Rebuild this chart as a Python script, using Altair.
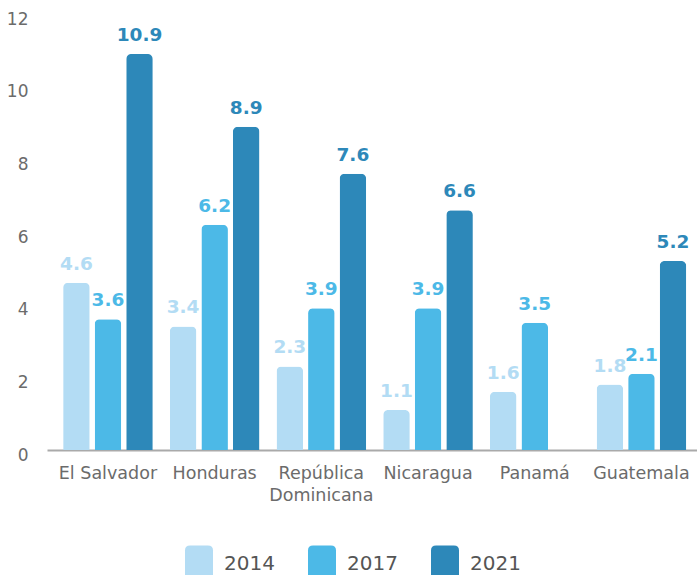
import altair as alt
import pandas as pd

# Data
countries = ["El Salvador", "Honduras", "República Dominicana", "Nicaragua", "Panamá", "Guatemala"]
years = ["2014", "2017", "2021"]
values_2014 = [4.6, 3.4, 2.3, 1.1, 1.6, 1.8]
values_2017 = [3.6, 6.2, 3.9, 3.9, 3.5, 2.1]
values_2021 = [10.9, 8.9, 7.6, 6.6, None, 5.2]
palette = ["#b3dcf4", "#4cb9e7", "#2d88b9"]
y_ticks = [0, 2, 4, 6, 8, 10, 12]

rows = []
for year, series in zip(years, [values_2014, values_2017, values_2021]):
    for country, value in zip(countries, series):
        if value is not None:
            rows.append({"pais": country, "anio": year, "valor": value})
df = pd.DataFrame(rows)

FONT = "DejaVu Sans"
TEXT_GRAY = "#6b6b6b"

# rounded legend swatch (top corners rounded)
swatch = "M-1,1.36 L-1,-1.0 Q-1,-1.36 -0.64,-1.36 L0.64,-1.36 Q1,-1.36 1,-1.0 L1,1.36 Z"

x_enc = alt.X(
    "pais:N",
    sort=countries,
    scale=alt.Scale(paddingInner=0.16, paddingOuter=0.126, align=0.6),
    axis=alt.Axis(
        title=None,
        labelAngle=0,
        ticks=False,
        domainColor="#aaaaaa",
        domainWidth=2,
        labelFont=FONT,
        labelFontSize=17.5,
        labelColor=TEXT_GRAY,
        labelPadding=14,
        labelBaseline="top",
        labelLineHeight=22,
        labelExpr="datum.value == 'República Dominicana' ? ['República', 'Dominicana'] : datum.value",
    ),
)
xoff_enc = alt.XOffset("anio:N", sort=years, scale=alt.Scale(paddingInner=0.158, paddingOuter=0))
y_enc = alt.Y(
    "valor:Q",
    scale=alt.Scale(domain=[0, 12], nice=False),
    axis=alt.Axis(
        title=None,
        values=y_ticks,
        grid=False,
        domain=False,
        ticks=False,
        labelFont=FONT,
        labelFontSize=17,
        labelColor=TEXT_GRAY,
        labelPadding=19,
        labelOffset=5,
    ),
)
color_scale = alt.Scale(domain=years, range=palette)

base = alt.Chart(df).encode(x=x_enc, xOffset=xoff_enc, y=y_enc)

bars = base.mark_bar(cornerRadiusTopLeft=5, cornerRadiusTopRight=5).encode(
    color=alt.Color(
        "anio:N",
        scale=color_scale,
        legend=alt.Legend(
            title=None,
            orient="none",
            legendX=138,
            legendY=536,
            direction="horizontal",
            symbolType=swatch,
            symbolSize=784,
            symbolStrokeWidth=0,
            symbolOpacity=1,
            labelFont=FONT,
            labelFontSize=20,
            labelColor="#555555",
            labelOffset=11,
            columnPadding=33,
            padding=0,
        ),
    )
)

labels = base.mark_text(
    dy=-13, baseline="alphabetic", fontWeight="bold", fontSize=18.5, font=FONT
).encode(
    text=alt.Text("valor:Q", format=".1f"),
    color=alt.Color("anio:N", scale=color_scale, legend=None),
)

chart = (
    alt.layer(bars, labels)
    .properties(
        width=650,
        height=436,
        autosize=alt.AutoSizeParams(type="none"),
        padding={"left": 47, "top": 14, "right": 0, "bottom": 125},
    )
    .configure_view(stroke=None)
)

chart.save("out.html", embed_options={"renderer": "svg", "actions": False})
